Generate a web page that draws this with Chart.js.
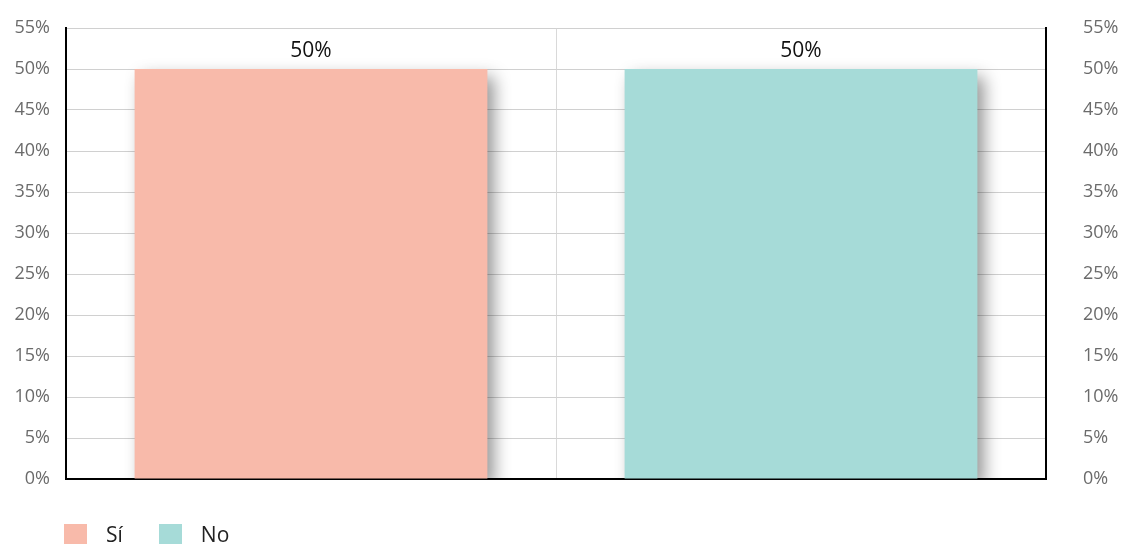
<!DOCTYPE html>
<html>
<head>
<meta charset="utf-8">
<script src="https://cdn.jsdelivr.net/npm/chart.js@4.4.1/dist/chart.umd.min.js"></script>
<style>
  html, body { margin: 0; padding: 0; background: #fff; }
  #wrap { position: relative; width: 1126px; height: 544px; overflow: hidden; }
  canvas { position: absolute; left: 0; top: 0; }
  #legend { position: absolute; left: 64px; top: 523px; font-family: "Open Sans", sans-serif; font-size: 21px; color: #222; display: flex; }
  .item { display: flex; align-items: center; margin-right: 36px; line-height: 22px; }
  .box { width: 23px; height: 20px; margin-right: 19px; }
</style>
</head>
<body>
<div id="wrap">
  <canvas id="c" width="1126" height="544"></canvas>
  <div id="legend"></div>
</div>
<script>
const categories = ["Sí", "No"];
const values = [50, 50];
const colors = ["#F8BAAA", "#A6DBD8"];
const yTicks = [0, 5, 10, 15, 20, 25, 30, 35, 40, 45, 50, 55];

const FONT = '"Open Sans", sans-serif';

const shadowPlugin = {
  id: 'barShadow',
  beforeDatasetsDraw(chart) {
    const ctx = chart.ctx;
    ctx.save();
    ctx.shadowColor = 'rgba(0,0,0,0.42)';
    ctx.shadowBlur = 16;
    ctx.shadowOffsetX = 7;
    ctx.shadowOffsetY = 8;
  },
  afterDatasetsDraw(chart) {
    chart.ctx.restore();
    const ctx = chart.ctx;
    ctx.save();
    ctx.font = '21px ' + FONT;
    ctx.fillStyle = '#111';
    ctx.textAlign = 'center';
    ctx.textBaseline = 'bottom';
    const meta = chart.getDatasetMeta(0);
    meta.data.forEach((bar, i) => {
      ctx.fillText(values[i] + '%', bar.x, bar.y - 7);
    });
    ctx.restore();
  }
};

function fitY(width) {
  return function (s) {
    s.width = width;
    s.paddingTop = 0;
    s.paddingBottom = 0;
  };
}

new Chart(document.getElementById('c'), {
  type: 'bar',
  data: {
    labels: categories,
    datasets: [{
      data: values,
      backgroundColor: colors,
      borderWidth: 0,
      barPercentage: 0.72,
      categoryPercentage: 1.0
    }]
  },
  options: {
    responsive: false,
    animation: false,
    layout: { padding: { top: 28, bottom: 65, left: 0, right: 0 } },
    plugins: { legend: { display: false }, tooltip: { enabled: false } },
    scales: {
      x: {
        offset: true,
        ticks: { display: false },
        grid: { display: true, offset: true, color: '#d9d9d9', lineWidth: 1, drawTicks: false },
        border: { display: true, color: '#000', width: 2 },
        afterFit(s) { s.height = 0; s.paddingLeft = 0; s.paddingRight = 0; }
      },
      y: {
        position: 'left',
        min: 0, max: 55,
        afterBuildTicks(s) { s.ticks = yTicks.map(v => ({ value: v })); },
        ticks: { callback: v => v + '%', color: '#6b6b6b', font: { family: FONT, size: 18 }, padding: 16 },
        grid: { color: '#d0d0d0', lineWidth: 1, drawTicks: false },
        border: { display: true, color: '#000', width: 2 },
        afterFit: fitY(66)
      },
      y2: {
        position: 'right',
        min: 0, max: 55,
        afterBuildTicks(s) { s.ticks = yTicks.map(v => ({ value: v })); },
        ticks: { callback: v => v + '%', color: '#6b6b6b', font: { family: FONT, size: 18 }, padding: 37 },
        grid: { display: false, drawTicks: false },
        border: { display: true, color: '#000', width: 2 },
        afterFit: fitY(80)
      }
    }
  },
  plugins: [shadowPlugin]
});

const legend = document.getElementById('legend');
categories.forEach((c, i) => {
  const it = document.createElement('div');
  it.className = 'item';
  const b = document.createElement('div');
  b.className = 'box';
  b.style.background = colors[i];
  const t = document.createElement('span');
  t.textContent = c;
  it.appendChild(b); it.appendChild(t);
  legend.appendChild(it);
});
</script>
</body>
</html>
